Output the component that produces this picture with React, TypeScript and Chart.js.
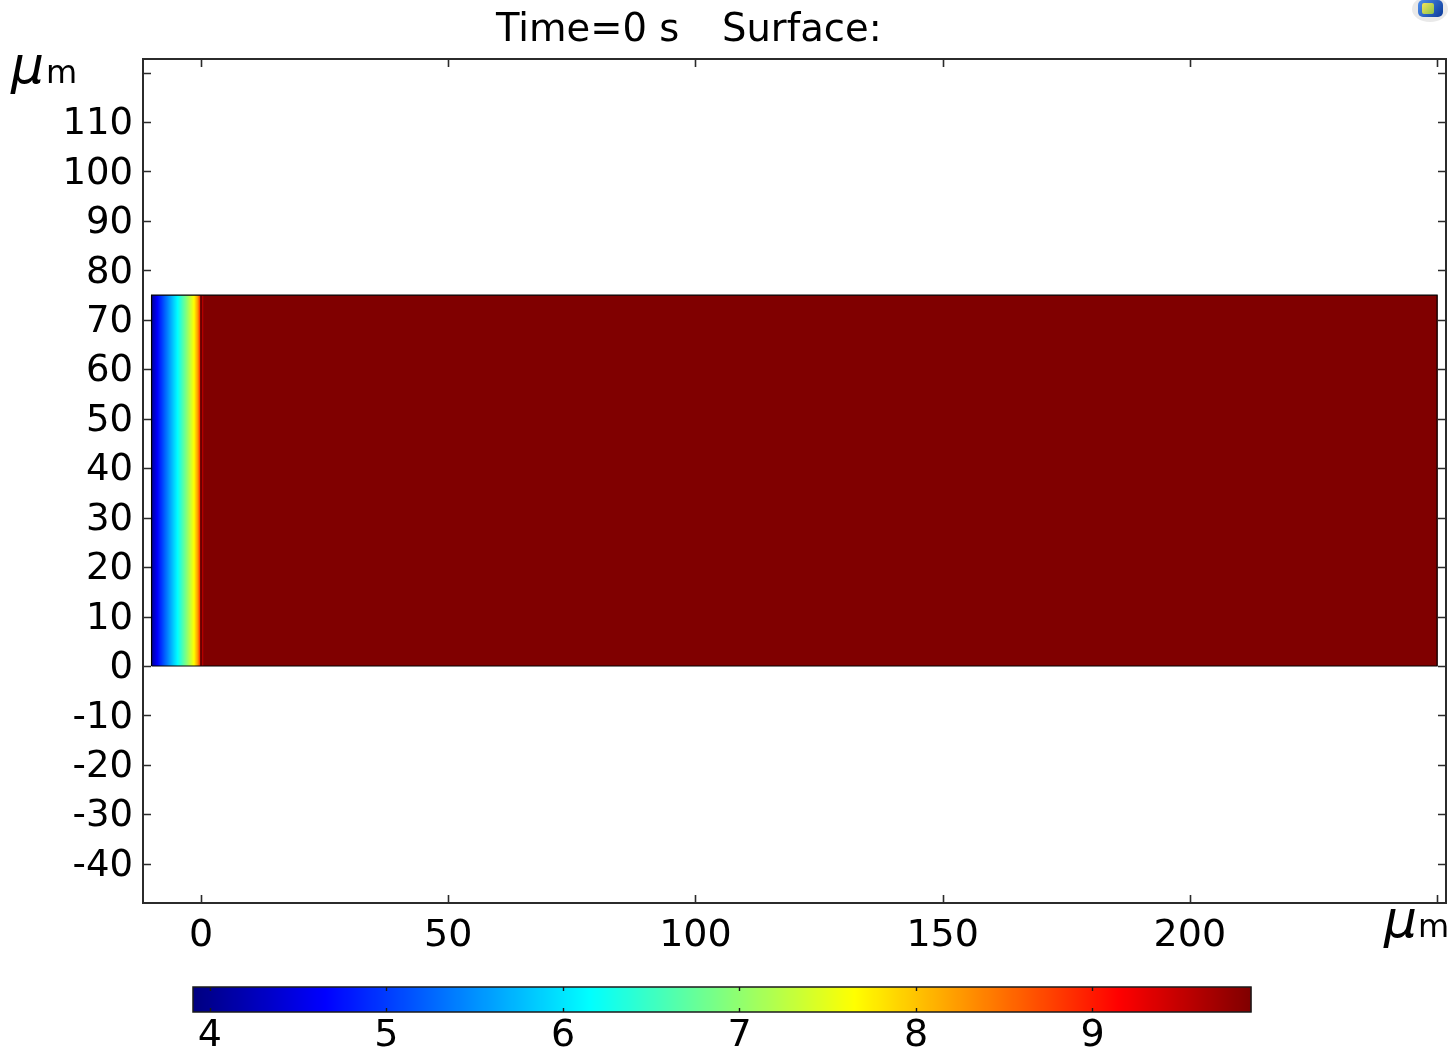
import React, { useEffect, useRef } from 'react';
import { Chart, registerables } from 'chart.js';

Chart.register(...registerables);

// ---------- data ----------
const titleLeft = 'Time=0 s';
const titleRight = 'Surface:';
const unitMu = 'μ';
const unitM = 'm';

const xRange = [-11.73, 251.8];
const yRange = [-47.93, 122.75];
const xStep = 50;
const yStep = 10;

// geometry of the domain (µm)
const domainX = [-10, 0, 250];
const domainY = [0, 75];

// surface value profile along x (constant in y)
const stripX = [-10, -8.8, -6.0, -4.7, -2.8, -1.4, -0.6, -0.2, 0, 0.6, 250];
const stripC = [4.05, 4.66, 5.7, 6.16, 7.0, 7.66, 8.3, 8.9, 9.3, 9.898, 9.898];

// colour bar
const colorRange = [3.904, 9.898];
const colorTicks = [4, 5, 6, 7, 8, 9];

// ---------- helpers ----------
const FONT = '"DejaVu Sans", "Liberation Sans", sans-serif';

function clamp01(v: number) {
  return Math.max(0, Math.min(1, v));
}
function jet(t: number) {
  const r = clamp01(1.5 - Math.abs(4 * t - 3));
  const g = clamp01(1.5 - Math.abs(4 * t - 2));
  const b = clamp01(1.5 - Math.abs(4 * t - 1));
  return `rgb(${Math.round(r * 255)},${Math.round(g * 255)},${Math.round(b * 255)})`;
}
function valueToColor(v: number) {
  return jet(clamp01((v - colorRange[0]) / (colorRange[1] - colorRange[0])));
}
function interp(x: number, xs: number[], ys: number[]) {
  if (x <= xs[0]) return ys[0];
  for (let i = 1; i < xs.length; i++) {
    if (x <= xs[i]) {
      const f = (x - xs[i - 1]) / (xs[i] - xs[i - 1]);
      return ys[i - 1] + f * (ys[i] - ys[i - 1]);
    }
  }
  return ys[ys.length - 1];
}

const W = 1454;
const MAIN_H = 960;
const BAR_H = 89;

export default function App() {
  const mainRef = useRef<HTMLCanvasElement | null>(null);
  const barRef = useRef<HTMLCanvasElement | null>(null);

  useEffect(() => {
    if (!mainRef.current || !barRef.current) return;

    const surfacePlugin = {
      id: 'surface',
      beforeDatasetsDraw(chart: any) {
        const { ctx, chartArea, scales } = chart;
        const xs = scales.x;
        const ys = scales.y;
        const x0 = xs.getPixelForValue(domainX[0]);
        const x1 = xs.getPixelForValue(domainX[2]);
        const yTop = ys.getPixelForValue(domainY[1]);
        const yBot = ys.getPixelForValue(domainY[0]);
        ctx.save();
        ctx.beginPath();
        ctx.rect(chartArea.left, chartArea.top, chartArea.right - chartArea.left, chartArea.bottom - chartArea.top);
        ctx.clip();
        for (let px = Math.floor(x0); px < Math.ceil(x1); px++) {
          const left = Math.max(px, x0);
          const right = Math.min(px + 1, x1);
          const v = xs.getValueForPixel((left + right) / 2);
          ctx.fillStyle = valueToColor(interp(v, stripX, stripC));
          ctx.fillRect(left, yTop, right - left + 0.3, yBot - yTop);
        }
        ctx.restore();
      },
    };

    const framePlugin = {
      id: 'frame',
      afterDraw(chart: any) {
        const { ctx, chartArea, scales } = chart;
        const xs = scales.x;
        const ys = scales.y;
        const { left, right, top, bottom } = chartArea;
        ctx.save();
        ctx.strokeStyle = '#2b2b2b';
        ctx.lineWidth = 2;
        ctx.strokeRect(left, top, right - left, bottom - top);
        ctx.lineWidth = 1.6;
        const tl = 8;
        ctx.beginPath();
        xs.ticks.forEach((t: any) => {
          const p = Math.round(xs.getPixelForValue(t.value)) + 0.5;
          ctx.moveTo(p, bottom);
          ctx.lineTo(p, bottom - tl);
          ctx.moveTo(p, top);
          ctx.lineTo(p, top + tl);
        });
        ys.ticks.forEach((t: any) => {
          const p = Math.round(ys.getPixelForValue(t.value)) + 0.5;
          ctx.moveTo(left, p);
          ctx.lineTo(left + tl, p);
          ctx.moveTo(right, p);
          ctx.lineTo(right - tl, p);
        });
        ctx.stroke();

        // title
        ctx.fillStyle = '#000';
        ctx.font = `38.5px ${FONT}`;
        ctx.textAlign = 'left';
        ctx.textBaseline = 'alphabetic';
        ctx.fillText(titleLeft, 496, 41);
        ctx.fillText(titleRight, 722, 41);

        // unit labels
        const yLast = ys.ticks[ys.ticks.length - 1].value;
        const yUnitBase = ys.getPixelForValue(yLast) + 10;
        ctx.font = `italic 52px ${FONT}`;
        ctx.fillText(unitMu, 11, yUnitBase);
        ctx.font = `32px ${FONT}`;
        ctx.fillText(unitM, 46, yUnitBase);

        const xLast = xs.ticks[xs.ticks.length - 1].value;
        const xUnitRight = xs.getPixelForValue(xLast) + 12;
        ctx.font = `32px ${FONT}`;
        const mW = ctx.measureText(unitM).width;
        ctx.fillText(unitM, xUnitRight - mW, 937);
        ctx.font = `italic 52px ${FONT}`;
        ctx.fillText(unitMu, xUnitRight - mW - 34, 937);

        // small application icon (top right)
        ctx.fillStyle = '#e9e9e9';
        ctx.beginPath();
        ctx.ellipse(1430, 9, 18, 13, 0, 0, Math.PI * 2);
        ctx.fill();
        const g = ctx.createLinearGradient(1420, 0, 1442, 18);
        g.addColorStop(0, '#4a8ae8');
        g.addColorStop(1, '#0b3a9a');
        ctx.fillStyle = g;
        ctx.beginPath();
        ctx.roundRect(1418, 0, 25, 17, 5);
        ctx.fill();
        const g2 = ctx.createLinearGradient(1422, 3, 1434, 14);
        g2.addColorStop(0, '#f3e45a');
        g2.addColorStop(1, '#8ac24a');
        ctx.fillStyle = g2;
        ctx.beginPath();
        ctx.roundRect(1422, 3, 12, 11, 2);
        ctx.fill();
        ctx.restore();
      },
    };

    const outline = [
      { x: domainX[0], y: domainY[0] },
      { x: domainX[2], y: domainY[0] },
      { x: domainX[2], y: domainY[1] },
      { x: domainX[0], y: domainY[1] },
      { x: domainX[0], y: domainY[0] },
    ];
    const innerBoundary = [
      { x: domainX[1], y: domainY[0] },
      { x: domainX[1], y: domainY[1] },
    ];

    const mainChart = new Chart(mainRef.current, {
      type: 'scatter',
      data: {
        datasets: [
          {
            data: innerBoundary,
            showLine: true,
            borderColor: 'rgba(40,0,0,0.9)',
            borderWidth: 1.4,
            pointRadius: 0,
          },
          {
            data: outline,
            showLine: true,
            borderColor: '#000',
            borderWidth: 1.2,
            pointRadius: 0,
          },
        ],
      } as any,
      options: {
        responsive: false,
        animation: false,
        devicePixelRatio: 1,
        layout: { padding: { left: 0, right: 8, top: 59, bottom: 0 } },
        plugins: { legend: { display: false }, tooltip: { enabled: false }, title: { display: false } },
        scales: {
          x: {
            type: 'linear',
            min: xRange[0],
            max: xRange[1],
            grid: { display: false, tickLength: 0 },
            border: { display: false },
            ticks: {
              stepSize: xStep,
              includeBounds: false,
              autoSkip: false,
              maxRotation: 0,
              padding: 10,
              color: '#000',
              font: { family: FONT, size: 38 },
              callback: (v: any, i: number, arr: any[]) => (i === arr.length - 1 ? '' : String(v)),
            },
            afterFit: (s: any) => {
              s.height = MAIN_H - 903;
            },
          },
          y: {
            type: 'linear',
            min: yRange[0],
            max: yRange[1],
            grid: { display: false, tickLength: 0 },
            border: { display: false },
            ticks: {
              stepSize: yStep,
              includeBounds: false,
              autoSkip: false,
              padding: 10,
              labelOffset: 2.5,
              color: '#000',
              font: { family: FONT, size: 37 },
              callback: (v: any, i: number, arr: any[]) => (i === arr.length - 1 ? '' : String(v)),
            },
            afterFit: (s: any) => {
              s.width = 143;
            },
          },
        },
      } as any,
      plugins: [surfacePlugin, framePlugin],
    });

    const barPlugin = {
      id: 'colorbar',
      beforeDatasetsDraw(chart: any) {
        const { ctx, chartArea, scales } = chart;
        const xs = scales.x;
        const { left, right, top, bottom } = chartArea;
        ctx.save();
        for (let px = Math.floor(left); px < Math.ceil(right); px++) {
          const v = xs.getValueForPixel(px + 0.5);
          ctx.fillStyle = valueToColor(v);
          ctx.fillRect(px, top, 1.3, bottom - top);
        }
        ctx.strokeStyle = '#1a1a1a';
        ctx.lineWidth = 1.5;
        ctx.strokeRect(left, top, right - left, bottom - top);
        ctx.lineWidth = 1.4;
        ctx.beginPath();
        colorTicks.forEach((t) => {
          const p = Math.round(xs.getPixelForValue(t)) + 0.5;
          ctx.moveTo(p, top);
          ctx.lineTo(p, top + 4);
          ctx.moveTo(p, bottom);
          ctx.lineTo(p, bottom - 4);
        });
        ctx.stroke();
        ctx.restore();
      },
    };

    const barChart = new Chart(barRef.current, {
      type: 'scatter',
      data: { datasets: [] },
      options: {
        responsive: false,
        animation: false,
        devicePixelRatio: 1,
        layout: { padding: { left: 193, right: W - 1251, top: 27, bottom: 0 } },
        plugins: { legend: { display: false }, tooltip: { enabled: false } },
        scales: {
          x: {
            type: 'linear',
            min: colorRange[0],
            max: colorRange[1],
            grid: { display: false, tickLength: 0 },
            border: { display: false },
            afterBuildTicks: (s: any) => {
              s.ticks = colorTicks.map((v) => ({ value: v }));
            },
            ticks: {
              autoSkip: false,
              maxRotation: 0,
              padding: 1,
              color: '#000',
              font: { family: FONT, size: 38 },
            },
            afterFit: (s: any) => {
              s.height = BAR_H - 52;
            },
          },
          y: { display: false, min: 0, max: 1 },
        },
      } as any,
      plugins: [barPlugin],
    });

    return () => {
      mainChart.destroy();
      barChart.destroy();
    };
  }, []);

  return (
    <div style={{ position: 'absolute', left: 0, top: 0, width: W, height: MAIN_H + BAR_H, background: '#fff' }}>
      <canvas
        ref={mainRef}
        width={W}
        height={MAIN_H}
        style={{ position: 'absolute', left: 0, top: 0, width: W, height: MAIN_H }}
      />
      <canvas
        ref={barRef}
        width={W}
        height={BAR_H}
        style={{ position: 'absolute', left: 0, top: MAIN_H, width: W, height: BAR_H }}
      />
    </div>
  );
}
